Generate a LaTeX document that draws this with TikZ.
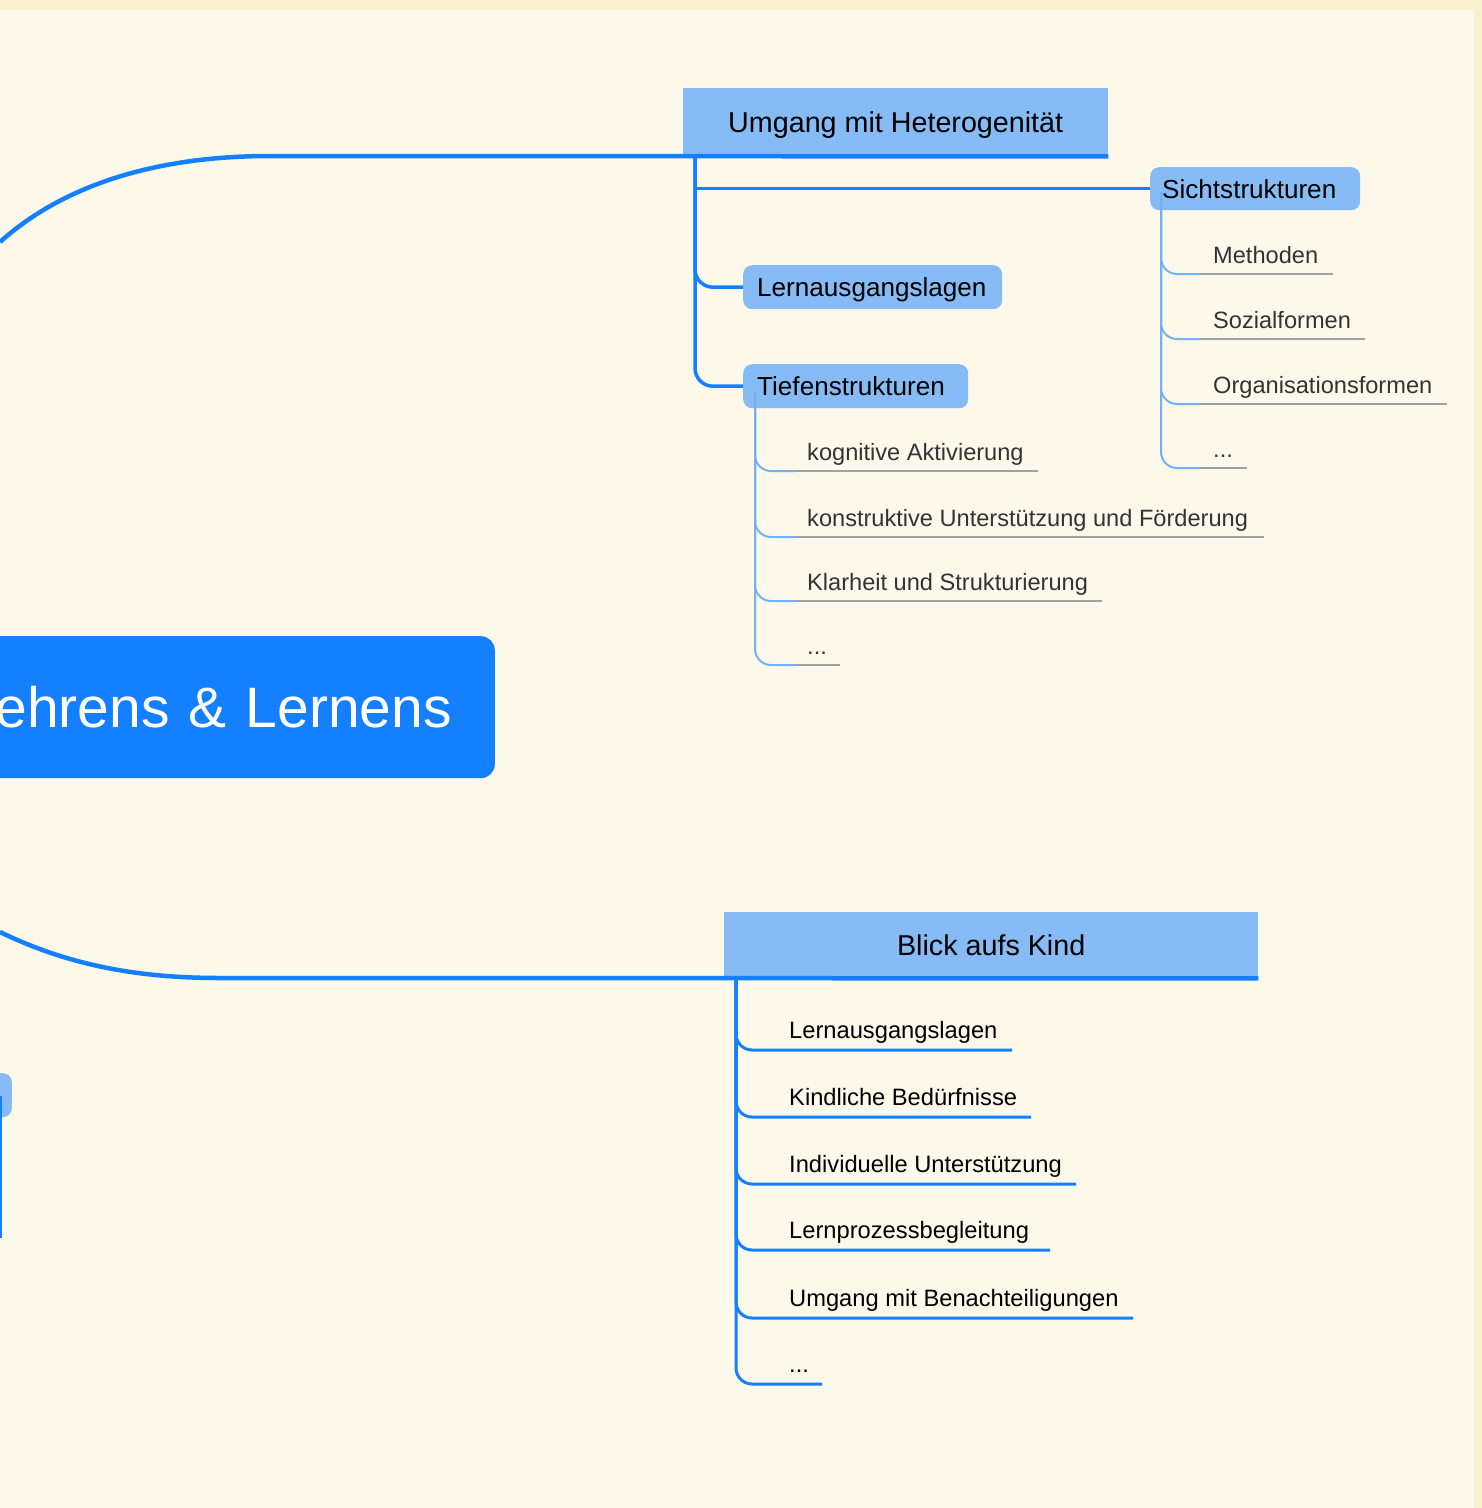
\documentclass[tikz,border=0pt]{standalone}
\usepackage{fontspec}
\setmainfont{Liberation Sans}
\definecolor{bgc}{HTML}{FCF9EB}
\definecolor{bandc}{HTML}{F9F0CD}
\definecolor{mainblue}{HTML}{1480FF}
\definecolor{lightbox}{HTML}{86BBF5}
\definecolor{twigblue}{HTML}{72B1F6}
\definecolor{grayline}{HTML}{A0A0A0}
\definecolor{graytext}{HTML}{333333}
\newcommand\mydots{...}
\begin{document}
\begin{tikzpicture}[x=1pt,y=-1pt,
  topbox/.style={fill=lightbox, draw=none, inner sep=0pt, text depth=0pt, font=\fontsize{28.7}{32}\selectfont, text=black},
  subbox/.style={fill=lightbox, draw=none, rounded corners=9pt, inner ysep=0pt, text depth=0pt, align=left, font=\fontsize{26.1}{30}\selectfont, text=black},
  centralbox/.style={fill=mainblue, draw=none, rounded corners=14pt, inner ysep=0pt, align=right, text=white, font=\fontsize{57}{62}\selectfont},
  gitem/.style={inner sep=0pt, text=graytext, font=\fontsize{23.6}{27}\selectfont},
  bitem/.style={inner sep=0pt, text=black, font=\fontsize{23.7}{27}\selectfont},
  mainline/.style={draw=mainblue, line width=4.5pt},
  branchline/.style={draw=mainblue, line width=3.5pt, rounded corners=18pt},
  twig/.style={draw=twigblue, line width=2pt, rounded corners=16pt},
  grayul/.style={draw=grayline, line width=2.5pt},
  blicktwig/.style={draw=mainblue, line width=3pt, rounded corners=16pt}
]
\clip (0,0) rectangle (1482,1508);
\fill[bgc] (0,0) rectangle (1482,1508);
\fill[bandc] (0,0) rectangle (1482,10);
\fill[bandc] (1474,0) rectangle (1482,1508);

% boxes
\node[topbox, anchor=north west, minimum width=425pt, minimum height=68pt] (umg) at (683,88) {Umgang mit Heterogenität};
\node[topbox, anchor=north west, minimum width=534pt, minimum height=66pt] (blick) at (724,912) {Blick aufs Kind};
\node[subbox, anchor=north west, inner xsep=12pt, text width=186pt, minimum height=43pt] (sicht) at (1150,167) {Sichtstrukturen};
\node[subbox, anchor=north west, inner xsep=14pt, text width=231pt, minimum height=44pt] (lern) at (743,265) {Lernausgangslagen};
\node[subbox, anchor=north west, inner xsep=14pt, text width=197pt, minimum height=44pt] (tief) at (743,364) {Tiefenstrukturen};
\node[centralbox, anchor=north east, inner xsep=43pt, text width=514pt, minimum height=142pt] (central) at (495,636) {ehrens \& Lernens};
\node[fill=lightbox, rounded corners=9pt, anchor=north east, minimum width=60pt, minimum height=44pt, inner sep=0pt] (leftnode) at (12,1073) {};

% trunk coordinates
\coordinate (ut) at (695,157);
\coordinate (st) at (1161,192);
\coordinate (tt) at (755,392);
\coordinate (bt) at (736,980);
\coordinate (lt) at (1,1096);
\coordinate (lb) at (1,1238);

% main curves
\coordinate (topstart) at (0,242);
\coordinate (botstart) at (0,932);
\draw[mainline] (topstart) .. controls (60,188) and (150,156) .. (270,156) -- (umg.south east);
\draw[mainline] (botstart) .. controls (70,966) and (140,978) .. (220,978) -- (blick.south east);

% Umgang branches
\draw[branchline] (ut) |- (tief.west);
\draw[branchline] (ut) |- (lern.west);
\draw[draw=mainblue, line width=3pt] (ut |- sicht.west) -- (sicht.west);

% left partial
\draw[draw=mainblue, line width=2pt] (lt) -- (lb);

% Sicht children
\foreach \n/\y/\e/\t in {m1/274/1333/Methoden, m2/339/1365/Sozialformen, m3/404/1447/Organisationsformen, m4/468/1247/\mydots}{
  \node[gitem, anchor=base west] (\n) at (1213,\y-11) {\t};
  \coordinate (\n-a) at (1200,\y);
  \coordinate (\n-b) at (\e,\y);
  \draw[grayul] (\n-a) -- (\n-b);
  \draw[twig] (st) |- (\n-a);
}
% Tiefen children
\foreach \n/\y/\e/\t in {k1/471/1038/kognitive Aktivierung, k2/537/1264/konstruktive Unterstützung und Förderung, k3/601/1102/Klarheit und Strukturierung, k4/665/840/\mydots}{
  \node[gitem, anchor=base west] (\n) at (807,\y-11) {\t};
  \coordinate (\n-a) at (795,\y);
  \coordinate (\n-b) at (\e,\y);
  \draw[grayul] (\n-a) -- (\n-b);
  \draw[twig] (tt) |- (\n-a);
}
% Blick children
\foreach \n/\y/\e/\t in {b1/1050/1012/Lernausgangslagen, b2/1117/1031/Kindliche Bedürfnisse, b3/1184/1076/Individuelle Unterstützung, b4/1250/1050/Lernprozessbegleitung, b5/1318/1133/Umgang mit Benachteiligungen, b6/1384/822/\mydots}{
  \node[bitem, anchor=base west] (\n) at (789,\y-12) {\t};
  \coordinate (\n-b) at (\e,\y);
  \draw[blicktwig] (bt) |- (\n-b);
}
\end{tikzpicture}
\end{document}
